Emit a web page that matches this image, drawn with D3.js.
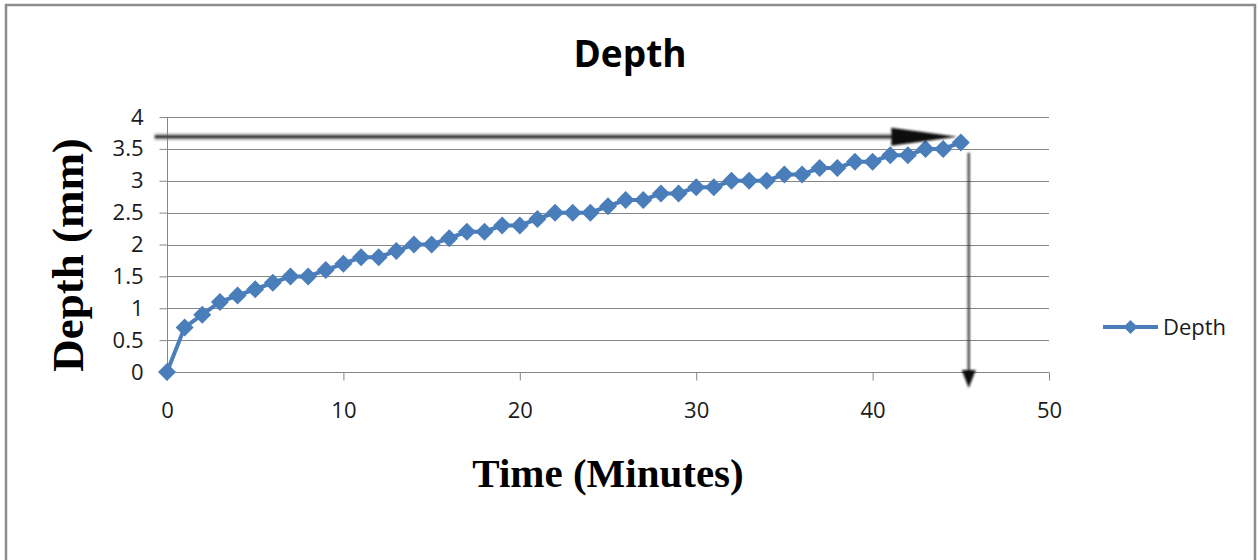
<!DOCTYPE html>
<html>
<head>
<meta charset="utf-8">
<script src="https://cdn.jsdelivr.net/npm/d3@7"></script>
<style>
  html, body { margin: 0; padding: 0; background: #fff; }
  svg { display: block; }
</style>
</head>
<body>
<svg id="chart" width="1258" height="560"></svg>
<script>
// ---- data ----
const chartTitle = "Depth";
const seriesName = "Depth";
const xTitle = "Time (Minutes)";
const yTitle = "Depth (mm)";
const timeMinutes = [0,1,2,3,4,5,6,7,8,9,10,11,12,13,14,15,16,17,18,19,20,21,22,23,24,25,26,27,28,29,30,31,32,33,34,35,36,37,38,39,40,41,42,43,44,45];
const depthMm = [0,0.7,0.9,1.1,1.2,1.3,1.4,1.5,1.5,1.6,1.7,1.8,1.8,1.9,2.0,2.0,2.1,2.2,2.2,2.3,2.3,2.4,2.5,2.5,2.5,2.6,2.7,2.7,2.8,2.8,2.9,2.9,3.0,3.0,3.0,3.1,3.1,3.2,3.2,3.3,3.3,3.4,3.4,3.5,3.5,3.6];
const xTicks = [0,10,20,30,40,50];
const yTicks = [0,0.5,1,1.5,2,2.5,3,3.5,4];
const yTickLabels = ["0","0.5","1","1.5","2","2.5","3","3.5","4"];
// annotation arrows (in data units)
const hArrow = {y: 3.69, x0: -0.7, x1: 44.8};
const vArrow = {x: 45.45, y0: 3.44, y1: -0.25};

// ---- layout ----
const svg = d3.select("#chart");
const plot = {left: 167, right: 1049, top: 117, bottom: 372};
const x = d3.scaleLinear().domain([0, 50]).range([plot.left, plot.right]);
const y = d3.scaleLinear().domain([0, 4]).range([plot.bottom, plot.top]);
const gridColor = "#868686";
const blue = "#4A7EBB";

// outer border
svg.append("rect").attr("x", 6).attr("y", 5).attr("width", 1249).attr("height", 620)
  .attr("fill", "#fff").attr("stroke", "#8c8c8c").attr("stroke-width", 2.5);

// defs: blur filter
const defs = svg.append("defs");
const f = defs.append("filter").attr("id", "soft").attr("x", "-10%").attr("y", "-50%").attr("width", "120%").attr("height", "200%");
f.append("feGaussianBlur").attr("stdDeviation", 1.1);

// gridlines
svg.append("g").selectAll("line").data(yTicks.filter(d => d > 0)).join("line")
  .attr("x1", plot.left).attr("x2", plot.right)
  .attr("y1", d => Math.round(y(d)) + 0.5).attr("y2", d => Math.round(y(d)) + 0.5)
  .attr("stroke", gridColor).attr("stroke-width", 1);

// y axis
const yAxis = svg.append("g").attr("transform", `translate(${plot.left + 0.5},0)`)
  .call(d3.axisLeft(y).tickValues(yTicks).tickSize(8).tickPadding(16)
    .tickFormat((d, i) => yTickLabels[i]));
yAxis.select(".domain").attr("stroke", gridColor).attr("d", `M0,${plot.top}V${plot.bottom}`);
yAxis.selectAll(".tick line").attr("stroke", gridColor);
yAxis.selectAll(".tick text").attr("font-family", "'Open Sans', sans-serif").attr("font-size", 22).attr("fill", "#1a1a1a");

// x axis
const xAxis = svg.append("g").attr("transform", `translate(0,${plot.bottom + 0.5})`)
  .call(d3.axisBottom(x).tickValues(xTicks).tickSize(8).tickPadding(22).tickFormat(d3.format("d")));
xAxis.select(".domain").attr("stroke", gridColor).attr("d", `M${plot.left},0H${plot.right}`);
xAxis.selectAll(".tick line").attr("stroke", gridColor);
xAxis.selectAll(".tick text").attr("font-family", "'Open Sans', sans-serif").attr("font-size", 22).attr("fill", "#1a1a1a");

// series
const pts = timeMinutes.map((t, i) => [t, depthMm[i]]);
svg.append("path").datum(pts)
  .attr("d", d3.line().x(d => x(d[0])).y(d => y(d[1])))
  .attr("fill", "none").attr("stroke", blue).attr("stroke-width", 4).attr("stroke-linejoin", "round");
const diamond = r => `M0,${-r}L${r},0L0,${r}L${-r},0Z`;
svg.append("g").selectAll("path").data(pts).join("path")
  .attr("transform", d => `translate(${x(d[0])},${y(d[1])})`)
  .attr("d", diamond(9)).attr("fill", blue);

// annotation arrows
const arr = svg.append("g").attr("filter", "url(#soft)");
const hy = y(hArrow.y), hx0 = x(hArrow.x0), hx1 = x(hArrow.x1);
arr.append("line").attr("x1", hx0).attr("x2", hx1 - 50).attr("y1", hy).attr("y2", hy)
  .attr("stroke", "#9a9a9a").attr("stroke-width", 7).attr("opacity", 0.6);
arr.append("line").attr("x1", hx0).attr("x2", hx1 - 50).attr("y1", hy).attr("y2", hy)
  .attr("stroke", "#222").attr("stroke-width", 3);
arr.append("path").attr("d", `M${hx1 - 66},${hy - 9}L${hx1},${hy}L${hx1 - 66},${hy + 9}Z`)
  .attr("fill", "#111");
const vx = x(vArrow.x), vy0 = y(vArrow.y0), vy1 = y(vArrow.y1);
arr.append("line").attr("x1", vx).attr("x2", vx).attr("y1", vy0).attr("y2", vy1 - 16)
  .attr("stroke", "#333").attr("stroke-width", 2.2);
arr.append("path").attr("d", `M${vx - 7},${vy1 - 18}L${vx + 7},${vy1 - 18}L${vx},${vy1}Z`)
  .attr("fill", "#111");

// title
svg.append("text").attr("x", 630).attr("y", 67).attr("text-anchor", "middle")
  .attr("font-family", "'Open Sans', sans-serif").attr("font-weight", "bold").attr("font-size", 37)
  .attr("fill", "#000").text(chartTitle);

// axis titles
svg.append("text").attr("x", 608).attr("y", 487).attr("text-anchor", "middle")
  .attr("font-family", "'Liberation Serif', 'Times New Roman', serif").attr("font-weight", "bold")
  .attr("font-size", 41).attr("fill", "#000").text(xTitle);
svg.append("text").attr("transform", "translate(83,255) rotate(-90)").attr("text-anchor", "middle")
  .attr("font-family", "'Liberation Serif', 'Times New Roman', serif").attr("font-weight", "bold")
  .attr("font-size", 45).attr("fill", "#000").text(yTitle);

// legend
const lg = svg.append("g").attr("transform", "translate(1103,327)");
lg.append("line").attr("x1", 0).attr("x2", 55).attr("y1", 0).attr("y2", 0)
  .attr("stroke", blue).attr("stroke-width", 4);
lg.append("path").attr("transform", "translate(27.5,0)").attr("d", diamond(7)).attr("fill", blue);
lg.append("text").attr("x", 60).attr("y", 8).attr("font-family", "'Open Sans', sans-serif")
  .attr("font-size", 22).attr("fill", "#1a1a1a").text(seriesName);
</script>
</body>
</html>
